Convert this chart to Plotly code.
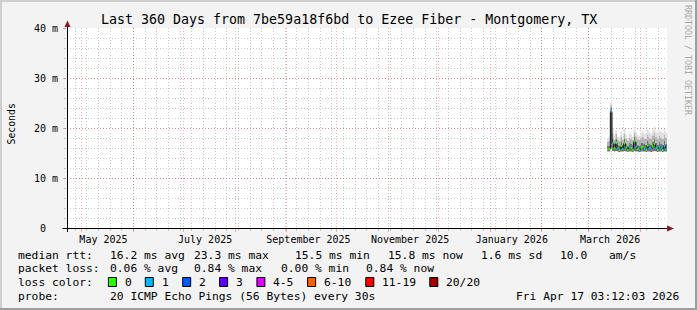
import plotly.graph_objects as go

# ---------------- data ----------------
title_text = "Last 360 Days from 7be59a18f6bd to Ezee Fiber - Montgomery, TX"
range_start = "2025-04-22 03:12:03"
range_end = "2026-04-17 03:12:03"

grid_months = ["2025-05-01", "2025-06-01", "2025-07-01", "2025-08-01", "2025-09-01",
               "2025-10-01", "2025-11-01", "2025-12-01", "2026-01-01", "2026-02-01",
               "2026-03-01", "2026-04-01"]
label_dates = ["2025-05-14", "2025-07-14", "2025-09-14", "2025-11-14", "2026-01-14", "2026-03-14"]
label_texts = ["May 2025", "July 2025", "September 2025", "November 2025", "January 2026", "March 2026"]

y_tickvals = [0, 10, 20, 30, 40]
y_ticktext = ["0\u00a0\u00a0", "10 m", "20 m", "30 m", "40 m"]

sample_times = [
    "2026-03-12 03:12:03", "2026-03-13 03:12:03", "2026-03-14 03:12:03", "2026-03-15 03:12:03",
    "2026-03-16 03:12:03", "2026-03-17 03:12:03", "2026-03-18 03:12:03", "2026-03-19 03:12:03",
    "2026-03-20 03:12:03", "2026-03-21 03:12:03", "2026-03-22 03:12:03", "2026-03-23 03:12:03",
    "2026-03-24 03:12:03", "2026-03-25 03:12:03", "2026-03-26 03:12:03", "2026-03-27 03:12:03",
    "2026-03-28 03:12:03", "2026-03-29 03:12:03", "2026-03-30 03:12:03", "2026-03-31 03:12:03",
    "2026-04-01 03:12:03", "2026-04-02 03:12:03", "2026-04-03 03:12:03", "2026-04-04 03:12:03",
    "2026-04-05 03:12:03", "2026-04-06 03:12:03", "2026-04-07 03:12:03", "2026-04-08 03:12:03",
    "2026-04-09 03:12:03", "2026-04-10 03:12:03", "2026-04-11 03:12:03", "2026-04-12 03:12:03",
    "2026-04-13 03:12:03", "2026-04-14 03:12:03", "2026-04-15 03:12:03", "2026-04-16 03:12:03",
]
median_ms = [15.7, 15.8, 23.3, 16.9, 16.0, 17.0, 15.9, 15.7, 16.4, 15.8, 16.9, 16.1,
             15.6, 16.2, 16.0, 15.7, 17.3, 16.3, 15.8, 15.6, 16.1, 16.2, 15.9, 15.7,
             16.5, 16.0, 15.8, 16.3, 16.8, 16.0, 15.7, 16.2, 15.9, 15.6, 16.4, 15.8]
lost_pings = [0, 0, 1, 1, 0, 0, 1, 0, 0, 1, 0, 0, 0, 1, 0, 0, 0, 1,
              0, 1, 0, 0, 1, 0, 0, 1, 1, 0, 0, 1, 0, 1, 1, 0, 1, 1]
smoke_min = [15.3, 15.3, 16.0, 15.4, 15.3, 15.4, 15.3, 15.2, 15.3, 15.3, 15.4, 15.3,
             15.2, 15.3, 15.3, 15.2, 15.4, 15.3, 15.3, 15.2, 15.3, 15.3, 15.3, 15.2,
             15.3, 15.3, 15.2, 15.3, 15.4, 15.3, 15.2, 15.3, 15.3, 15.2, 15.3, 15.3]
smoke_p75 = [16.4, 16.5, 24.0, 17.8, 16.8, 17.9, 16.7, 16.5, 17.3, 16.6, 17.8, 16.9,
             16.4, 17.1, 16.9, 16.6, 18.2, 17.2, 16.7, 16.5, 17.0, 17.1, 16.8, 16.6,
             17.4, 16.9, 16.7, 17.3, 17.8, 17.0, 16.6, 17.2, 16.9, 16.6, 17.4, 16.8]
smoke_p90 = [17.3, 17.4, 24.6, 18.9, 17.7, 18.8, 17.6, 17.5, 18.3, 17.6, 18.8, 17.9,
             17.4, 18.1, 17.9, 17.6, 19.1, 18.3, 17.8, 17.6, 18.1, 18.3, 17.9, 17.8,
             18.6, 18.1, 17.9, 18.5, 19.0, 18.2, 17.8, 18.4, 18.1, 17.8, 18.6, 18.0]
smoke_max = [18.0, 18.3, 25.2, 20.1, 18.4, 19.6, 18.2, 18.1, 19.3, 18.2, 19.8, 18.6,
             18.0, 18.9, 18.7, 18.3, 20.2, 19.2, 18.6, 18.4, 19.0, 19.4, 18.8, 18.9,
             19.7, 19.2, 18.9, 19.6, 20.3, 19.3, 18.9, 19.5, 19.3, 19.0, 19.8, 19.1]

rtt_label = "median rtt:"
rtt_stats = ["16.2 ms avg", "23.3 ms max", "15.5 ms min", "15.8 ms now", "1.6 ms sd", "10.0", "am/s"]
loss_label = "packet loss:"
loss_stats = ["0.06 % avg", "0.84 % max", "0.00 % min", "0.84 % now"]
color_label = "loss color:"
loss_labels = ["0", "1", "2", "3", "4-5", "6-10", "11-19", "20/20"]
loss_colors = ["#26ff00", "#00b8ff", "#0059ff", "#5e00ff", "#dd00ff", "#ff5e00", "#ff0000", "#a10000"]
loss_bins = [(0, 0), (1, 1), (2, 2), (3, 3), (4, 5), (6, 10), (11, 19), (20, 20)]
probe_label = "probe:"
probe_text = "20 ICMP Echo Pings (56 Bytes) every 30s"
stamp_text = "Fri Apr 17 03:12:03 2026"
credit_text = "RRDTOOL / TOBI OETIKER"

# ---------------- layout helpers ----------------
W, H = 697, 310
L, R, T, B = 67, 30, 28, 82
PW, PH = W - L - R, H - T - B
MONO = "DejaVu Sans Mono"


def X(px):
    return (px - L) / PW


def Y(py):
    return (T + PH - py) / PH


fig = go.Figure()

# smoke (step areas)
x_edges = sample_times + [range_end]


def ext(a):
    return a + [a[-1]]


fig.add_trace(go.Scatter(x=x_edges, y=ext(smoke_min), mode="lines", line=dict(width=0, shape="hv"),
                         hoverinfo="skip", showlegend=False))
fig.add_trace(go.Scatter(x=x_edges, y=ext(smoke_p75), mode="lines", line=dict(width=0, shape="hv"),
                         fill="tonexty", fillcolor="#767676", hoverinfo="skip", showlegend=False))
fig.add_trace(go.Scatter(x=x_edges, y=ext(smoke_p90), mode="lines", line=dict(width=0, shape="hv"),
                         fill="tonexty", fillcolor="#b4b4b4", hoverinfo="skip", showlegend=False))
fig.add_trace(go.Scatter(x=x_edges, y=ext(smoke_max), mode="lines", line=dict(width=0, shape="hv"),
                         fill="tonexty", fillcolor="#e0e0e0", hoverinfo="skip", showlegend=False))

# median base line
fig.add_trace(go.Scatter(x=x_edges, y=ext(median_ms), mode="lines",
                         line=dict(width=1, shape="hv", color="#111111"),
                         hoverinfo="skip", showlegend=False))

# median coloured by loss
seg_x = [[] for _ in loss_colors]
seg_y = [[] for _ in loss_colors]
for i, m in enumerate(median_ms):
    lp = lost_pings[i]
    c = next(k for k, (lo, hi) in enumerate(loss_bins) if lo <= lp <= hi)
    seg_x[c] += [x_edges[i], x_edges[i + 1], None]
    seg_y[c] += [m, m, None]
for c, col in enumerate(loss_colors):
    if seg_x[c]:
        fig.add_trace(go.Scatter(x=seg_x[c], y=seg_y[c], mode="lines",
                                 line=dict(width=2, color=col), showlegend=False,
                                 name=loss_labels[c]))

# dummy trace on overlay axis for labels
fig.add_trace(go.Scatter(x=[range_start, range_end], y=[None, None], xaxis="x2",
                         mode="lines", showlegend=False, hoverinfo="skip"))

MAJ = "rgba(255,0,0,0.33)"
MIN = "rgba(150,150,150,0.5)"
DASH = "1px,2px"

fig.update_layout(
    width=W, height=H,
    margin=dict(l=L, r=R, t=T, b=B, pad=0),
    paper_bgcolor="#f3f3f3", plot_bgcolor="#ffffff",
    showlegend=False,
    xaxis=dict(type="date", range=[range_start, range_end], tickvals=grid_months,
               showticklabels=False, showgrid=True, gridcolor=MAJ, griddash=DASH, gridwidth=1,
               ticks="outside", ticklen=3, tickcolor=MAJ, showline=False, zeroline=False,
               minor=dict(tick0="2025-04-27", dtick=604800000, showgrid=True, gridcolor=MIN,
                          griddash=DASH, ticks="outside", ticklen=2, tickcolor=MIN)),
    xaxis2=dict(type="date", overlaying="x", matches="x", side="bottom", range=[range_start, range_end],
                tickvals=label_dates, ticktext=label_texts, showgrid=False, ticks="",
                tickfont=dict(family=MONO, size=10, color="#000000"), showline=False, zeroline=False,
                ticklabelstandoff=4),
    yaxis=dict(range=[0, 40], tickvals=y_tickvals, ticktext=y_ticktext,
               tickfont=dict(family=MONO, size=10, color="#000000"),
               showgrid=True, gridcolor=MAJ, griddash=DASH, ticks="outside", ticklen=3, tickcolor=MAJ,
               zeroline=False, showline=False, ticklabelstandoff=3,
               minor=dict(dtick=2, showgrid=True, gridcolor=MIN, griddash=DASH,
                          ticks="outside", ticklen=2, tickcolor=MIN)),
)

shapes = []
# frame
shapes.append(dict(type="line", xref="paper", yref="paper", x0=X(0), x1=X(W), y0=Y(1), y1=Y(1),
                   line=dict(color="#cfcfcf", width=2)))
shapes.append(dict(type="line", xref="paper", yref="paper", x0=X(1), x1=X(1), y0=Y(0), y1=Y(H),
                   line=dict(color="#cfcfcf", width=2)))
shapes.append(dict(type="line", xref="paper", yref="paper", x0=X(0), x1=X(W), y0=Y(H - 1), y1=Y(H - 1),
                   line=dict(color="#9e9e9e", width=2)))
shapes.append(dict(type="line", xref="paper", yref="paper", x0=X(W - 1), x1=X(W - 1), y0=Y(0), y1=Y(H),
                   line=dict(color="#9e9e9e", width=2)))
# axes
shapes.append(dict(type="line", xref="paper", yref="paper", x0=X(62.5), x1=X(669), y0=Y(228.5), y1=Y(228.5),
                   line=dict(color="#000000", width=1), layer="above"))
shapes.append(dict(type="line", xref="paper", yref="paper", x0=X(67.5), x1=X(67.5), y0=Y(232), y1=Y(25),
                   line=dict(color="#000000", width=1), layer="above"))
shapes.append(dict(type="path", xref="paper", yref="paper", layer="above",
                   path=f"M {X(667)} {Y(225.5)} L {X(674)} {Y(228.5)} L {X(667)} {Y(231.5)} Z",
                   fillcolor="#8b1a1a", line=dict(width=0)))
shapes.append(dict(type="path", xref="paper", yref="paper", layer="above",
                   path=f"M {X(64.5)} {Y(27)} L {X(67.5)} {Y(20.5)} L {X(70.5)} {Y(27)} Z",
                   fillcolor="#8b1a1a", line=dict(width=0)))

annotations = []


def txt(s, px, py, anchor="left", size=11.3, color="#000000", angle=0):
    annotations.append(dict(text=s, x=X(px), y=Y(py), xref="paper", yref="paper", showarrow=False,
                            xanchor=anchor, yanchor="middle", textangle=angle,
                            font=dict(family=MONO, size=size, color=color)))


txt(title_text, 348.5, 19, anchor="center", size=13.3)
txt("Seconds", 10.5, 124, anchor="center", size=9.8, angle=-90)
txt(credit_text, 688, 60, anchor="center", size=8.3, color="#a8a8a8", angle=90)

row_y = [255, 268.5, 282, 296]
txt(rtt_label, 16, row_y[0])
for s, px in zip(rtt_stats, [107.6, 192.4, 292.9, 385.8, 478.7, 557.8, 607.1]):
    txt(s, px, row_y[0])
txt(loss_label, 16, row_y[1])
for s, px in zip(loss_stats, [107.6, 192.4, 279.0, 364.4]):
    txt(s, px, row_y[1])
txt(color_label, 16, row_y[2])
box_x = [108.4, 145.3, 182.7, 219.6, 256.9, 307.6, 365.8, 429.8]
for s, col, bx in zip(loss_labels, loss_colors, box_x):
    shapes.append(dict(type="rect", xref="paper", yref="paper", x0=X(bx), x1=X(bx + 8),
                       y0=Y(row_y[2] + 4.5), y1=Y(row_y[2] - 4.5), fillcolor=col,
                       line=dict(color="#000000", width=1)))
    txt(s, bx + 14.3, row_y[2])
txt(probe_label, 16, row_y[3])
txt(probe_text, 107.6, row_y[3])
txt(stamp_text, 680.5, row_y[3], anchor="right")

fig.update_layout(shapes=shapes, annotations=annotations)
fig.write_html("out.html")
